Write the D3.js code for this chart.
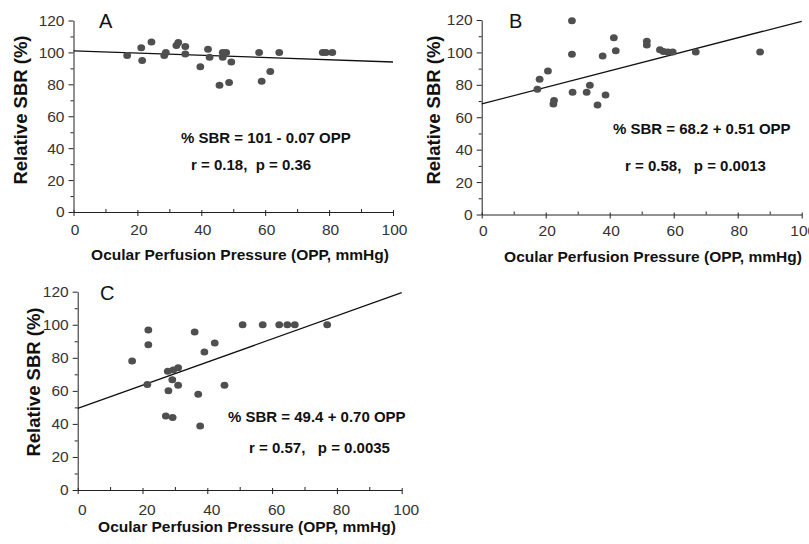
<!DOCTYPE html>
<html>
<head>
<meta charset="utf-8">
<script src="https://cdn.jsdelivr.net/npm/d3@7"></script>
<style>
  body { margin: 0; background: #fff; }
  svg { display: block; font-family: "Liberation Sans", Arial, sans-serif; }
  .tick text { fill: #333; font-size: 15.5px; }
  .axis path, .axis line { stroke: #222; stroke-width: 1; }
  .title { font-weight: bold; font-size: 15.5px; fill: #111; }
  .eq { font-weight: bold; font-size: 15px; fill: #111; }
</style>
</head>
<body>
<div id="chart"></div>
<script>
// panel letters, axis ticks
var panelNames = ["A", "B", "C"];
var xTicks = [0, 20, 40, 60, 80, 100];
var yTicks = [0, 20, 40, 60, 80, 100, 120];
var xMinor = [10, 30, 50, 70, 90];
var yMinor = [10, 30, 50, 70, 90, 110];

// values: OPP (mmHg) and relative SBR (%)
var oppA = [16.8, 21.2, 21.5, 24.4, 28.4, 28.9, 32.2, 32.8, 35.0, 35.0, 39.7, 42.1, 42.6,
            45.7, 46.7, 46.7, 47.8, 48.7, 49.4, 58.1, 58.9, 61.6, 64.4, 78.0, 79.0, 81.0];
var sbrA = [98, 103, 95, 106.6, 98, 100, 104.3, 106.2, 103.7, 99, 91, 102, 97,
            79.5, 100, 97, 100, 81.2, 94, 100, 82, 88, 100, 100, 100, 100];

var oppB = [28.2, 28.2, 17.4, 18.1, 20.7, 22.6, 22.4, 28.4, 32.8, 33.8, 36.2, 37.8,
            38.7, 41.3, 41.9, 51.6, 51.6, 55.7, 56.8, 58.2, 59.7, 66.9, 87.0];
var sbrB = [119.6, 98.9, 77.3, 83.5, 88.6, 70.3, 68.1, 75.5, 75.5, 79.8, 67.5, 97.8,
            73.7, 109.1, 101.1, 106.9, 104.6, 101.7, 100.5, 100.3, 100.3, 100.3, 100.3];

var oppC = [16.8, 21.8, 21.8, 21.5, 27.8, 29.5, 31.0, 28.0, 29.2, 31.0, 27.2, 29.3,
            36.1, 39.1, 42.3, 37.2, 37.8, 45.3, 50.9, 57.1, 62.2, 64.7, 67.0, 77.0];
var sbrC = [78.1, 96.8, 87.9, 63.9, 71.8, 72.6, 74.0, 60.1, 66.7, 63.4, 44.8, 43.8,
            95.6, 83.5, 89.0, 57.9, 38.7, 63.4, 100, 100, 100, 100, 100, 100];

// regression lines: % SBR = intercept + slope * OPP
var fitIntercept = [101, 68.2, 49.4];
var fitSlope = [-0.07, 0.51, 0.70];
var eqText = ["% SBR = 101 - 0.07 OPP", "% SBR = 68.2 + 0.51 OPP", "% SBR = 49.4 + 0.70 OPP"];
var statText = ["r = 0.18,  p = 0.36", "r = 0.58,   p = 0.0013", "r = 0.57,   p = 0.0035"];

var svg = d3.select("#chart").append("svg")
    .attr("width", 809)
    .attr("height", 544);

// where each panel sits on the page
var layout = [
  { x0: 73.5, x1: 393, y0: 212, y1: 20.5, lab: [99, 27], eq: [181, 142.5], st: [191, 169.5],
    xt: [240, 260], yt: [27, 110], xLabDx: 1, xLabDy: 23 },
  { x0: 481.7, x1: 801.7, y0: 214.5, y1: 20, lab: [509, 27], eq: [613, 134], st: [625, 170.5],
    xt: [653, 262], yt: [440, 110], xLabDx: 1, xLabDy: 21 },
  { x0: 77.7, x1: 401.7, y0: 490, y1: 291.7, lab: [100, 299], eq: [228, 422], st: [249, 453],
    xt: [247, 532], yt: [40, 382], xLabDx: 4, xLabDy: 25 }
];

var panels = [[oppA, sbrA], [oppB, sbrB], [oppC, sbrC]];

panels.forEach(function (p, i) {
    var L = layout[i];
    var x = d3.scaleLinear().domain([0, 100]).range([L.x0, L.x1]);
    var y = d3.scaleLinear().domain([0, 120]).range([L.y0, L.y1]);
    var g = svg.append("g");

    // minor ticks first
    g.append("g").attr("class", "axis")
        .attr("transform", "translate(" + L.x0 + ",0)")
        .call(d3.axisLeft(y).tickValues(yMinor).tickSize(3).tickFormat(""))
        .select(".domain").remove();
    g.append("g").attr("class", "axis")
        .attr("transform", "translate(0," + L.y0 + ")")
        .call(d3.axisTop(x).tickValues(xMinor).tickSize(3).tickFormat(""))
        .select(".domain").remove();

    g.append("g").attr("class", "axis")
        .attr("transform", "translate(" + L.x0 + ",0)")
        .call(d3.axisLeft(y).tickValues(yTicks).tickSize(5).tickSizeOuter(0).tickPadding(4));

    var gx = g.append("g").attr("class", "axis")
        .attr("transform", "translate(0," + L.y0 + ")")
        .call(d3.axisBottom(x).tickValues(xTicks).tickSize(4).tickSizeOuter(0));
    gx.selectAll(".tick line").attr("y1", -2);
    gx.selectAll(".tick text").attr("dy", null).attr("y", L.xLabDy).attr("dx", L.xLabDx);

    // regression line
    var line = d3.line().x(function (d) { return x(d); })
        .y(function (d) { return y(fitIntercept[i] + fitSlope[i] * d); });
    g.append("path")
        .datum([0, 100])
        .attr("d", line)
        .attr("fill", "none")
        .attr("stroke", "#111")
        .attr("stroke-width", 1.3);

    // points
    g.selectAll(".dot")
        .data(p[0].map(function (v, k) { return [v, p[1][k]]; }))
        .enter().append("ellipse")
        .attr("class", "dot")
        .attr("cx", function (d) { return x(d[0]); })
        .attr("cy", function (d) { return y(d[1]); })
        .attr("rx", 3.9)
        .attr("ry", 3.5)
        .attr("fill", "#4f4f4f");

    g.append("text")
        .attr("x", L.lab[0]).attr("y", L.lab[1] + 1)
        .style("font-size", "20px").attr("fill", "#111")
        .text(panelNames[i]);

    g.append("text").attr("class", "eq")
        .attr("x", L.eq[0]).attr("y", L.eq[1])
        .text(eqText[i]);
    g.append("text").attr("class", "eq")
        .attr("x", L.st[0]).attr("y", L.st[1])
        .attr("xml:space", "preserve")
        .style("white-space", "pre")
        .text(statText[i]);

    // axis titles
    g.append("text").attr("class", "title")
        .attr("x", L.xt[0]).attr("y", L.xt[1])
        .style("text-anchor", "middle")
        .text("Ocular Perfusion Pressure (OPP, mmHg)");
    g.append("text").attr("class", "title")
        .attr("transform", "translate(" + L.yt[0] + "," + L.yt[1] + ") rotate(-90)")
        .style("text-anchor", "middle")
        .style("font-size", "18.5px")
        .text("Relative SBR (%)");
});
</script>
</body>
</html>
